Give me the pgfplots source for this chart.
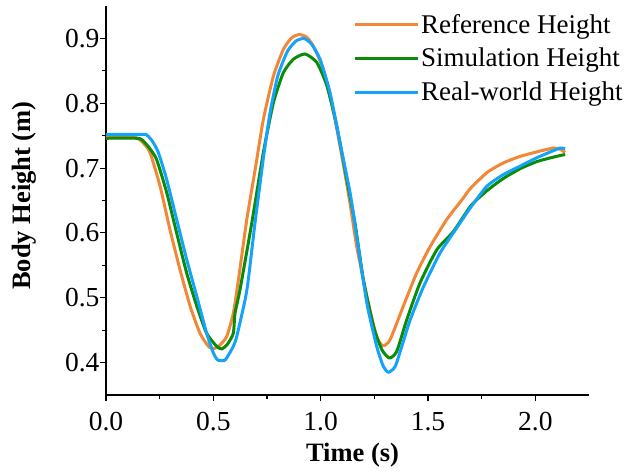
\documentclass[border=0pt]{standalone}
\usepackage{fontspec}
\setmainfont{Liberation Serif}
\usepackage{pgfplots}
\pgfplotsset{compat=1.18}

\definecolor{refC}{RGB}{242,135,55}
\definecolor{simC}{RGB}{10,140,10}
\definecolor{realC}{RGB}{20,162,250}

\begin{document}
\begin{tikzpicture}
\useasboundingbox (-106pt,-77pt) rectangle (526pt,395pt);
\begin{axis}[
  scale only axis,
  width=483pt, height=389pt,
  xmin=0, xmax=2.25, ymin=0.35, ymax=0.95,
  axis x line*=bottom, axis y line*=left,
  axis line style={line width=1.3pt, -},
  tick align=outside,
  xtick={0,0.5,1,1.5,2}, ytick={0.4,0.5,0.6,0.7,0.8,0.9},
  minor x tick num=1, minor y tick num=1,
  major tick length=6pt, minor tick length=4pt,
  every tick/.style={black, line width=1.1pt},
  /pgf/number format/assume math mode=true,
  /pgf/number format/fixed, /pgf/number format/fixed zerofill,
  /pgf/number format/precision=1,
  ticklabel style={font=\fontsize{27.5}{32}\selectfont},
  xticklabel style={yshift=-8pt},
  yticklabel style={xshift=3pt},
  label style={font=\fontsize{26.5}{31}\selectfont\bfseries},
  xlabel={Time (s)}, ylabel={Body Height (m)},
  xlabel style={at={(axis description cs:0.5104,-0.1722)}, anchor=base},
  ylabel style={at={(axis description cs:-0.1563,0.5126)}, anchor=base},
  legend style={draw=none, fill=none, at={(0.511,1.0)}, anchor=north west,
    yshift=-6pt,
    font=\fontsize{27}{32}\selectfont, row sep=9.5pt, inner sep=0pt},
  legend cell align=left,
  legend image code/.code={\draw[#1, line width=3pt] (0pt,0pt) -- (63pt,0pt);},
  every axis plot/.append style={line width=3pt, line join=round},
]
\addplot[refC, smooth, tension=0.35] coordinates {
(0.000,0.747) (0.100,0.747) (0.140,0.747) (0.170,0.740) (0.205,0.724)
(0.252,0.672) (0.298,0.605) (0.345,0.543) (0.392,0.487) (0.438,0.445)
(0.480,0.424) (0.505,0.422) (0.525,0.425) (0.562,0.440) (0.593,0.476)
(0.617,0.528) (0.656,0.621) (0.695,0.698) (0.733,0.775) (0.780,0.842)
(0.826,0.883) (0.865,0.901) (0.900,0.906) (0.935,0.902) (0.966,0.888)
(1.013,0.852) (1.061,0.785) (1.107,0.703) (1.137,0.645) (1.168,0.579)
(1.215,0.502) (1.261,0.440) (1.290,0.426) (1.323,0.435) (1.385,0.487)
(1.447,0.538) (1.510,0.579) (1.588,0.621) (1.665,0.654) (1.696,0.668)
(1.774,0.693) (1.851,0.708) (1.929,0.718) (2.007,0.725) (2.085,0.731)
(2.116,0.729) (2.139,0.724)
};
\addlegendentry{Reference Height}
\addplot[simC, smooth, tension=0.35] coordinates {
(0.000,0.746) (0.140,0.746) (0.166,0.744) (0.200,0.732) (0.236,0.713)
(0.283,0.662) (0.329,0.600) (0.376,0.538) (0.423,0.487) (0.469,0.445)
(0.516,0.425) (0.539,0.421) (0.565,0.428) (0.593,0.445) (0.601,0.476)
(0.624,0.512) (0.680,0.617) (0.733,0.724) (0.780,0.801) (0.826,0.847)
(0.873,0.868) (0.927,0.876) (0.982,0.863) (1.029,0.827) (1.075,0.765)
(1.122,0.682) (1.160,0.615) (1.199,0.528) (1.246,0.456) (1.285,0.420)
(1.320,0.407) (1.354,0.417) (1.401,0.466) (1.463,0.523) (1.541,0.574)
(1.618,0.602) (1.700,0.642) (1.774,0.665) (1.851,0.684) (1.929,0.699)
(2.007,0.710) (2.085,0.717) (2.139,0.721)
};
\addlegendentry{Simulation Height}
\addplot[realC, smooth, tension=0.35] coordinates {
(0.000,0.752) (0.170,0.752) (0.190,0.751) (0.215,0.742) (0.244,0.724)
(0.283,0.682) (0.329,0.621) (0.376,0.559) (0.423,0.502) (0.469,0.445)
(0.500,0.415) (0.520,0.404) (0.550,0.403) (0.562,0.407) (0.593,0.425)
(0.609,0.440) (0.648,0.497) (0.663,0.528) (0.694,0.615) (0.733,0.715)
(0.764,0.785) (0.800,0.842) (0.845,0.880) (0.885,0.896) (0.923,0.900)
(0.958,0.891) (0.997,0.868) (1.044,0.816) (1.090,0.739) (1.137,0.662)
(1.168,0.594) (1.215,0.492) (1.261,0.425) (1.292,0.394) (1.316,0.385)
(1.347,0.394) (1.378,0.425) (1.417,0.466) (1.479,0.517) (1.556,0.569)
(1.618,0.600) (1.700,0.640) (1.774,0.672) (1.851,0.690) (1.929,0.703)
(2.007,0.716) (2.085,0.727) (2.116,0.731) (2.139,0.730)
};
\addlegendentry{Real-world Height}
\end{axis}
\end{tikzpicture}
\end{document}
